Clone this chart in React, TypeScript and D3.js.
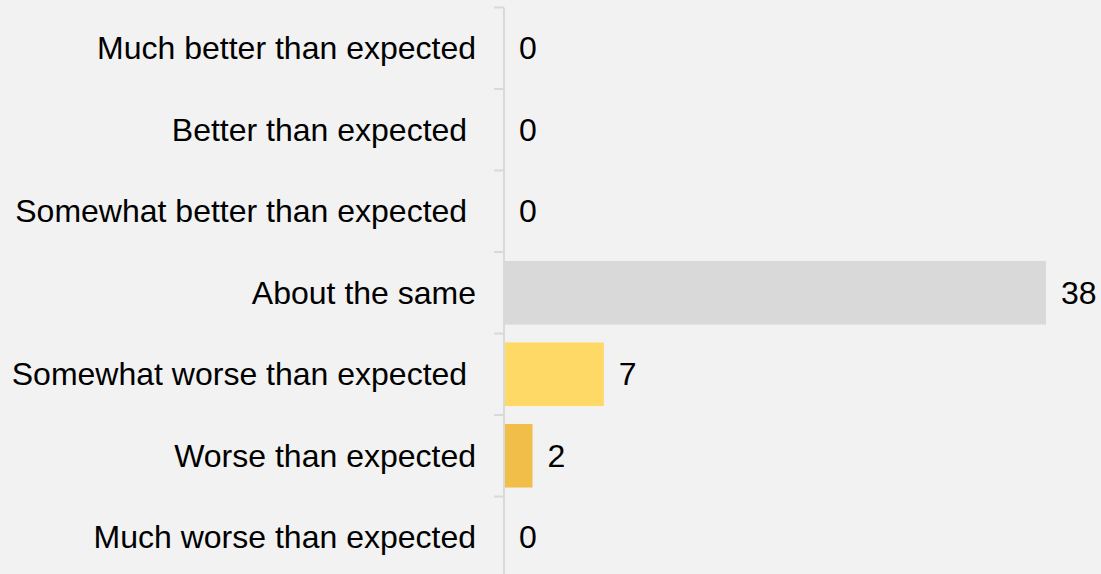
import React from "react";
import * as d3 from "d3";

const categories = [
  "Much better than expected",
  "Better than expected ",
  "Somewhat better than expected ",
  "About the same",
  "Somewhat worse than expected ",
  "Worse than expected",
  "Much worse than expected",
];
const values = [0, 0, 0, 38, 7, 2, 0];
const colors = ["#d9d9d9", "#d9d9d9", "#d9d9d9", "#d9d9d9", "#ffd966", "#f1be4a", "#d9d9d9"];

const W = 1101;
const H = 574;
const axisX = 504;
const top = 7.5;
const bottom = 578;

export default function App() {
  const y = d3.scaleBand<string>().domain(categories).range([top, bottom]).paddingInner(0.22).paddingOuter(0.11);
  const yEdge = d3.scaleBand<string>().domain(categories).range([top, bottom]);
  const x = d3.scaleLinear().domain([0, 38]).range([axisX, 1046]);
  const font = "Arial, 'Liberation Sans', sans-serif";
  return (
    <svg width={W} height={H} style={{ position: "absolute", left: 0, top: 0, display: "block", background: "#f2f2f2" }}>
      <rect x={0} y={0} width={W} height={H} fill="#f2f2f2" />
      {categories.map((c, i) => (
        <rect key={"b" + i} x={x(0)} y={y(c)!} width={x(values[i]) - x(0)} height={y.bandwidth()} fill={colors[i]} />
      ))}
      <line x1={axisX} x2={axisX} y1={top} y2={H} stroke="#d9d9d9" strokeWidth={2} />
      {[...categories.map((c) => yEdge(c)!), bottom].map((t, i) => (
        <line key={"t" + i} x1={axisX - 10} x2={axisX} y1={t} y2={t} stroke="#d9d9d9" strokeWidth={2} />
      ))}
      {categories.map((c, i) => (
        <text
          key={"l" + i}
          x={476}
          y={yEdge(c)! + yEdge.bandwidth() / 2}
          dy="0.34em"
          textAnchor="end"
          fontFamily={font}
          fontSize={32}
          fill="#000"
          style={{ whiteSpace: "pre" }}
        >
          {c}
        </text>
      ))}
      {categories.map((c, i) => (
        <text
          key={"v" + i}
          x={x(values[i]) + 15}
          y={yEdge(c)! + yEdge.bandwidth() / 2}
          dy="0.34em"
          textAnchor="start"
          fontFamily={font}
          fontSize={32}
          fill="#000"
        >
          {values[i]}
        </text>
      ))}
    </svg>
  );
}
